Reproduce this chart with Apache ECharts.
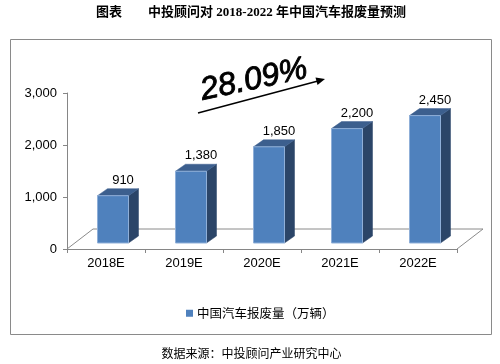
<!DOCTYPE html>
<html><head><meta charset="utf-8">
<script src="https://cdn.jsdelivr.net/npm/echarts@6/dist/echarts.min.js"></script>
<style>html,body{margin:0;padding:0;background:#fff;}#c{width:500px;height:364px;}</style>
</head><body><div id="c"></div>
<script>
const categories = ['2018E', '2019E', '2020E', '2021E', '2022E'];
const scrapVolume = [910, 1380, 1850, 2200, 2450];
const seriesName = '中国汽车报废量（万辆）';
const yTicks = { min: 0, max: 3000, interval: 1000 };
const growthLabel = '28.09%';
const titleText = '图表　　中投顾问对 2018-2022 年中国汽车报废量预测';
const sourceText = '数据来源：中投顾问产业研究中心';

const chart = echarts.init(document.getElementById('c'), null, {renderer: 'canvas'});
const DX = 10, DY = -7, LIFT = 6;
const FLOOR_DX = 26, FLOOR_DY = -20;

function fmt(v){ return v.toLocaleString('en-US'); }

const option = {
  animation: false,
  backgroundColor: '#ffffff',
  grid: { left: 67, top: 93, width: 390, height: 156 },
  xAxis: {
    type: 'category', data: categories, boundaryGap: true,
    axisLine: { show: true, lineStyle: { color: '#868686', width: 1 } },
    axisTick: { show: true, length: 4, lineStyle: { color: '#868686' } },
    axisLabel: { color: '#000', fontSize: 13, fontFamily: 'Liberation Sans', margin: 8 }
  },
  yAxis: {
    type: 'value', min: yTicks.min, max: yTicks.max, interval: yTicks.interval,
    axisLine: { show: true, lineStyle: { color: '#868686', width: 1 } },
    axisTick: { show: true, length: 4, lineStyle: { color: '#868686' } },
    splitLine: { show: false },
    axisLabel: { color: '#000', fontSize: 13, fontFamily: 'Liberation Sans', margin: 10,
      formatter: v => fmt(v) }
  },
  legend: {
    left: 181, top: 302, itemWidth: 7, itemHeight: 7, itemGap: 10,
    icon: 'rect',
    textStyle: { color: '#000', fontSize: 12.5, fontFamily: 'Noto Sans CJK SC', padding: [0,0,0,-1] },
    data: [seriesName]
  },
  series: [
    {
      type: 'custom', name: 'floor', z: 1, silent: true,
      data: [0],
      renderItem: function (params, api) {
        const cs = params.coordSys;
        const y0 = api.coord([0, 0])[1];
        const x0 = cs.x, x1 = cs.x + cs.width;
        return {
          type: 'polyline',
          shape: { points: [[x0, y0], [x0 + FLOOR_DX, y0 + FLOOR_DY], [x1 + FLOOR_DX, y0 + FLOOR_DY], [x1, y0]] },
          style: { stroke: '#8a8a8a', lineWidth: 1, fill: null }
        };
      }
    },
    {
      type: 'custom', name: seriesName, z: 3,
      itemStyle: { color: '#4F81BD' },
      data: scrapVolume.map((v, i) => [i, v]),
      encode: { x: 0, y: 1 },
      renderItem: function (params, api) {
        const idx = api.value(0), v = api.value(1);
        const pBase = api.coord([idx, 0]);
        const pTop = api.coord([idx, v]);
        const c = pBase[0];
        const xl = c - 8.5, xr = c + 22.5;
        const bottom = pBase[1] - LIFT, top = pTop[1] - LIFT;
        return {
          type: 'group',
          children: [
            { type: 'polygon', shape: { points: [[xr, top], [xr + DX, top + DY], [xr + DX, bottom + DY], [xr, bottom]] },
              style: { fill: '#2B4568', stroke: '#2B4568', lineWidth: 0.5 } },
            { type: 'polygon', shape: { points: [[xl, top], [xl + DX, top + DY], [xr + DX, top + DY], [xr, top]] },
              style: { fill: '#3C5F8E', stroke: '#3C5F8E', lineWidth: 0.5 } },
            { type: 'rect', shape: { x: xl, y: top, width: xr - xl, height: bottom - top },
              style: { fill: '#4F81BD', stroke: '#8FAFD8', lineWidth: 1 } },
            { type: 'text', style: { text: fmt(v), x: (xl + xr) / 2 + DX, y: top + DY - 2,
              align: 'center', verticalAlign: 'bottom', fill: '#000',
              font: '13px "Liberation Sans"' } }
          ]
        };
      }
    }
  ],
  graphic: [
    { type: 'rect', shape: { x: 10.5, y: 39.5, width: 481, height: 295 },
      style: { fill: null, stroke: '#8a8a8a', lineWidth: 1 }, z: 0, silent: true },
    { type: 'text', style: { text: titleText, x: 251, y: 13, align: 'center', verticalAlign: 'middle',
      fill: '#000', font: 'bold 13px "Liberation Serif", "Noto Sans CJK SC"' } },
    { type: 'text', style: { text: sourceText, x: 251.5, y: 353, align: 'center', verticalAlign: 'middle',
      fill: '#000', font: '12px "Noto Sans CJK SC"' } },
    { type: 'text', x: 254, y: 80, rotation: 12 * Math.PI / 180,
      style: { text: growthLabel, x: 0, y: 0, align: 'center', verticalAlign: 'middle',
      fill: '#000', stroke: '#000', lineWidth: 0.9, font: 'italic 32px "Liberation Sans"' } },
    { type: 'line', shape: { x1: 198, y1: 113, x2: 318, y2: 81 },
      style: { stroke: '#000', lineWidth: 1.3 } },
    { type: 'polygon', shape: { points: [[325, 79], [315.5, 77.5], [317.5, 85]] },
      style: { fill: '#000' } }
  ]
};
chart.setOption(option);
</script></body></html>
